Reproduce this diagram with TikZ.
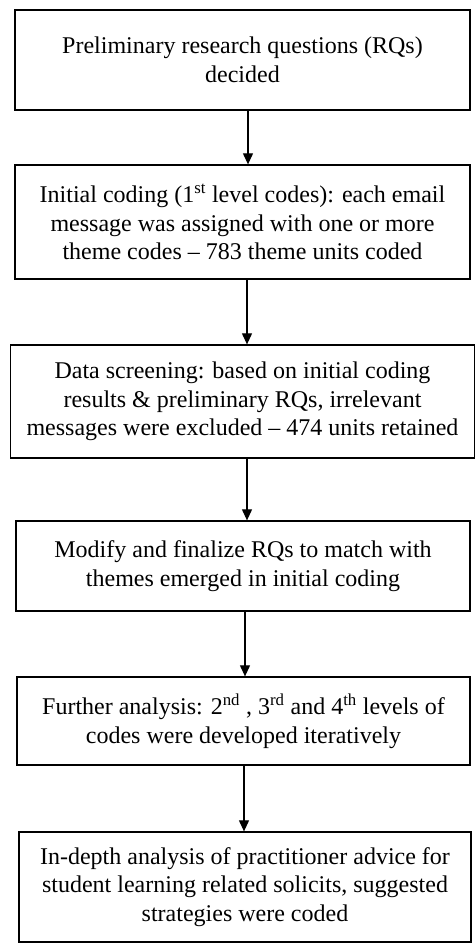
\documentclass[tikz,border=0pt]{standalone}
\usepackage{fontspec}
\setmainfont{Liberation Serif}
\usetikzlibrary{arrows.meta,positioning}
\begin{document}
\begin{tikzpicture}[x=1pt,y=1pt,
  stepbox/.style={draw=black, line width=1.3pt, align=center, inner sep=0pt,
    font=\fontsize{24}{28.5}\selectfont},
  flow/.style={draw=black, line width=1.1pt, -{Triangle[length=11pt,width=10pt]}}]
\useasboundingbox (0,0) rectangle (475,-943);
\fill[white] (0,0) rectangle (475,-943);
\node[stepbox, minimum width=455pt, minimum height=100pt] (b1) at (242.5,-60)
  {Preliminary research questions (RQs)\\decided};
\node[stepbox, minimum width=455pt, minimum height=114pt] (b2) at (242.5,-222)
  {Initial coding (1\textsuperscript{st} level codes): each email\\message was assigned with one or more\\theme codes -- 783 theme units coded};
\node[stepbox, minimum width=464pt, minimum height=113pt] (b3) at (242.5,-401.5)
  {Data screening: based on initial coding\\results \& preliminary RQs, irrelevant\\messages were excluded -- 474 units retained};
\node[stepbox, minimum width=454pt, minimum height=90pt] (b4) at (243,-566)
  {Modify and finalize RQs to match with\\themes emerged in initial coding};
\node[stepbox, minimum width=453pt, minimum height=88pt] (b5) at (243.5,-721)
  {Further analysis: 2\textsuperscript{nd} , 3\textsuperscript{rd} and 4\textsuperscript{th} levels of\\codes were developed iteratively};
\node[stepbox, minimum width=452pt, minimum height=110pt] (b6) at (245,-887)
  {In-depth analysis of practitioner advice for\\student learning related solicits, suggested\\strategies were coded};
\draw[flow] ([xshift=5.5pt]b1.south) -- ([xshift=5.5pt]b2.north);
\draw[flow] ([xshift=4.5pt]b2.south) -- ([xshift=4.5pt]b3.north);
\draw[flow] ([xshift=4.5pt]b3.south) -- ([xshift=4pt]b4.north);
\draw[flow] ([xshift=2pt]b4.south) -- ([xshift=1.5pt]b5.north);
\draw[flow] ([xshift=0.5pt]b5.south) -- ([xshift=-1pt]b6.north);
\end{tikzpicture}
\end{document}
